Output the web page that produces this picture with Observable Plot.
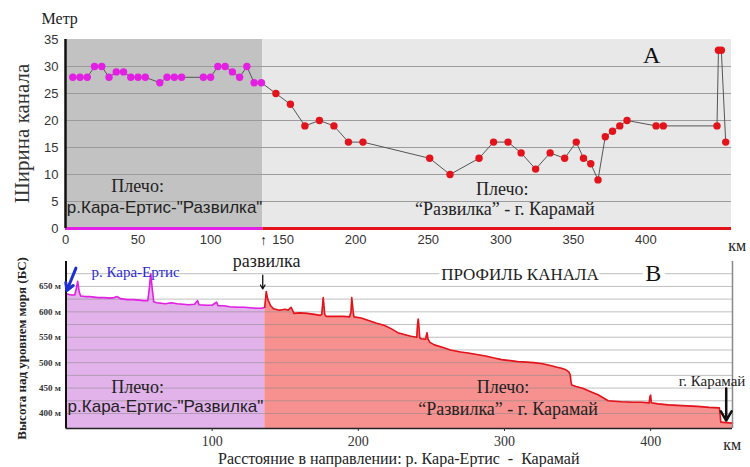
<!DOCTYPE html>
<html><head><meta charset="utf-8">
<script src="https://cdn.jsdelivr.net/npm/d3@7"></script>
<script src="https://cdn.jsdelivr.net/npm/@observablehq/plot@0.6"></script>
<style>
body{margin:0;background:#fff;}
#wrap{position:relative;width:750px;height:467px;overflow:hidden;background:#fff;}
#wrap svg{position:absolute;left:0;overflow:visible;}
</style></head><body><div id="wrap"></div>
<script>
const SERIF = "'Liberation Serif','Times New Roman',serif";
const SANS = "'Liberation Sans',Arial,sans-serif";

// shoulder split (km of the "Развилка" fork)
const splitKm = 136;
const endKmA = 459;
const endKmB = 456;

// Panel A: channel width (m) vs km
const widthKm = [5,10,15,20,25,30,35,40,45,50,55,65,70,75,80,95,100,105,110,115,120,125,130,135,
  145,155,165,175,185,195,205,251,265,285,295,305,314,324,334,344,352,357,362,367,372,377,382,387,407,412,449,450,452,455];
const widthM = [28,28,28,30,30,28,29,29,28,28,28,27,28,28,28,28,28,30,30,29,28,30,27,27,
  25,23,19,20,19,16,16,13,10,13,16,16,14,11,14,13,16,13,12,9,17,18,19,20,19,19,19,33,33,16];

// Panel B: elevation profile (m) vs km
const profileKm = [0,2,4,6,7,8,9,10,13,16,19,22,26,30,33,35,37,42,46,50,53,56,57,58,59,60,62,65,68,72,76,80,84,88,90,91,96,100,103,104,108,112,117,122,126,130,134,136,
  137,138,140,142,146,150,152,154,156,160,165,170,174,175,176,177,178,185,190,194,195,195.5,196.5,197,202,207,212,218,223,227,232,236,240,240.5,241,241.5,242,243,246,247,247.7,249,252,258,263,270,275,281,287,293,298,304,309,315,320,326,332,336,339,342,344,345,345.5,346,349,354,359,364,368,371,375,380,388,394,399,399.5,400,400.5,405,412,418,425,432,440,447,447.5,448,452,456];
const profileElev = [636,634,633,633,645,660,640,631,630,630,629,628,628,627,628,630,626,624,624,623,622,622,645,675,645,620,618,617,616,618,616,615,614,615,622,614,613,613,619,612,612,610,609,609,608,607,607,609,
  640,625,612,606,603,605,603,609,597,598,597,595,593,595,628,595,591,591,591,590,600,628,600,590,588,583,578,573,566,559,555,552,550,575,586,570,549,547,546,559,546,540,535,530,525,521,519,516,513,509,506,504,502,501,500,498,494,491,489,486,482,476,462,456,453,449,443,437,430,425,424,423,422,422,421,433,436,421,419,417,416,415,414,412,411,398,383,382,381];

const widthTicks = [0,5,10,15,20,25,30,35];
const widthGrid = [5,10,15,20,25,30];
const kmTicksA = [0,50,100,150,200,250,300,350,400];
const elevTicks = [400,450,500,550,600,650];
const elevGrid = [400,425,450,475,500,525,550,575,600,625,650,675];
const kmTicksB = [100,200,300,400];

const MAG = "#e21fe2", RED = "#e3121b";

const widthData = widthKm.map((k,i)=>({km:k, w:widthM[i]}));
const profile = profileKm.map((k,i)=>({km:k, h:profileElev[i]}));
const profA = profile.filter(d=>d.km<=splitKm);
const profB = profile.filter(d=>d.km>=splitKm);
const shoulders = [{from:0,to:splitKm,bg:"#c2c2c2",line:MAG,area:"#e2b2ea"},{from:splitKm,to:endKmA,bg:"#e8e8e8",line:RED,area:"#f6918f"}];

const wrap = document.getElementById("wrap");

const A = Plot.plot({
  width:750, height:256, marginLeft:65, marginRight:19, marginTop:39, marginBottom:28,
  x:{domain:[0,endKmA]}, y:{domain:[0,35]},
  style:{background:"transparent", fontFamily:SANS, fontSize:"13px", color:"#333", overflow:"visible"},
  marks:[
    Plot.rect(shoulders,{x1:"from",x2:"to",y1:0,y2:35,fill:"bg"}),
    Plot.ruleY(widthGrid,{stroke:"#9b9b9b",strokeWidth:1}),
    Plot.ruleY([0],{x1:0,x2:splitKm,stroke:MAG,strokeWidth:3}),
    Plot.ruleY([0],{x1:splitKm,x2:endKmA,stroke:RED,strokeWidth:3}),
    Plot.ruleX([0],{y1:0,y2:35,stroke:"#111",strokeWidth:2.5}),
    Plot.line(widthData,{x:"km",y:"w",stroke:"#555",strokeWidth:1}),
    Plot.dot(widthData,{x:"km",y:"w",r:3.7,fill:d=>d.km<splitKm?MAG:RED,stroke:"none"}),
    Plot.axisX(kmTicksA,{tickSize:0,tickPadding:6,fontSize:13,fontFamily:SANS,label:null}),
    Plot.axisY(widthTicks,{tickSize:0,tickPadding:7,fontSize:13,fontFamily:SANS,label:null}),
    Plot.text(["↑"],{x:splitKm+0.5,y:-2.3,fontSize:14,fontFamily:SANS,fill:"#222"}),
    Plot.text(["км"],{x:463,y:-3.3,fontSize:16,fontFamily:SERIF,fill:"#222"}),
    Plot.text(["Метр"],{x:-4,y:38.9,fontSize:16,fontFamily:SERIF,fill:"#222"}),
    Plot.text(["Ширина канала"],{x:-29.7,y:17.6,rotate:-90,fontSize:21,fontFamily:SERIF,fill:"#333"}),
    Plot.text(["A"],{x:404,y:32,fontSize:24,fontFamily:SERIF,fill:"#111"}),
    Plot.text(["Плечо:"],{x:49.7,y:7.8,fontSize:18,fontFamily:SERIF,fill:"#222"}),
    Plot.text(["р.Кара-Ертис-\"Развилка\""],{x:68.3,y:3.9,fontSize:17,fontFamily:SANS,fill:"#222"}),
    Plot.text(["Плечо:"],{x:301,y:7.2,fontSize:18,fontFamily:SERIF,fill:"#222"}),
    Plot.text(["“Развилка” - г. Карамай"],{x:302.8,y:3.5,fontSize:18,fontFamily:SERIF,fill:"#222"})
  ]
});
A.style.top = "0px";
wrap.appendChild(A);

const yMin = 370.5;
const B = Plot.plot({
  width:750, height:221, marginLeft:65.5, marginRight:18, marginTop:15, marginBottom:39,
  x:{domain:[0,endKmB]}, y:{domain:[yMin,699]},
  style:{background:"transparent", fontFamily:SERIF, fontSize:"14px", color:"#333", overflow:"visible"},
  marks:[
    Plot.areaY(profA,{x:"km",y1:yMin,y2:"h",fill:shoulders[0].area}),
    Plot.areaY(profB,{x:"km",y1:yMin,y2:"h",fill:shoulders[1].area}),
    Plot.ruleY(elevGrid,{stroke:"#8a8a8a",strokeOpacity:0.55,strokeWidth:1}),
    Plot.line(profA,{x:"km",y:"h",stroke:MAG,strokeWidth:1.6}),
    Plot.line(profB,{x:"km",y:"h",stroke:RED,strokeWidth:1.6}),
    Plot.ruleX([0],{y1:yMin,y2:699,stroke:"#111",strokeWidth:2}),
    Plot.ruleX([endKmB],{y1:yMin,y2:699,stroke:"#888",strokeWidth:1.5}),
    Plot.ruleY([yMin],{stroke:"#222",strokeWidth:1.5}),
    Plot.axisX(kmTicksB,{tickSize:3,tickPadding:5,fontSize:14,fontFamily:SERIF,label:null}),
    Plot.axisY(elevTicks,{tickSize:0,tickPadding:5,fontSize:9,fontWeight:"bold",fontFamily:SERIF,tickFormat:d=>d+" м",label:null}),
    Plot.text(["развилка"],{x:137.3,y:699,fontSize:18,fontFamily:SERIF,fill:"#222"}),
    Plot.arrow([0],{x1:134.6,y1:672,x2:134.6,y2:645,stroke:"#111",strokeWidth:1.3,headLength:6}),
    Plot.text(["р. Кара-Ертис"],{x:47.6,y:677.6,fontSize:15,fontFamily:SERIF,fill:"#2b2bd0"}),
    Plot.arrow([0],{x1:6.8,y1:686,x2:0.6,y2:642,stroke:"#1f2fd0",strokeWidth:3,headLength:11}),
    Plot.text(["ПРОФИЛЬ КАНАЛА"],{x:310.6,y:673.6,fontSize:17,fontFamily:SERIF,fill:"#222",stroke:"white",strokeWidth:8,paintOrder:"stroke"}),
    Plot.text(["В"],{x:401.7,y:675.6,fontSize:24,fontFamily:SERIF,fill:"#111",stroke:"white",strokeWidth:10,paintOrder:"stroke"}),
    Plot.text(["Плечо:"],{x:49,y:451,fontSize:18,fontFamily:SERIF,fill:"#222"}),
    Plot.text(["р.Кара-Ертис-\"Развилка\""],{x:68,y:414.5,fontSize:17,fontFamily:SANS,fill:"#222"}),
    Plot.text(["Плечо:"],{x:299,y:452,fontSize:18,fontFamily:SERIF,fill:"#222"}),
    Plot.text(["“Развилка” - г. Карамай"],{x:302.4,y:408,fontSize:18,fontFamily:SERIF,fill:"#222"}),
    Plot.text(["г. Карамай"],{x:442,y:463,fontSize:15,fontFamily:SERIF,fill:"#222"}),
    Plot.arrow([0],{x1:451.7,y1:449,x2:451.7,y2:386,stroke:"#111",strokeWidth:2.5,headLength:10}),
    Plot.text(["км"],{x:455.8,y:339,fontSize:16,fontFamily:SERIF,fill:"#222"}),
    Plot.text(["Высота над уровнем моря (БС)"],{x:-30.5,y:528,rotate:-90,fontSize:13,fontWeight:"bold",fontFamily:SERIF,fill:"#222"}),
    Plot.text(["Расстояние в направлении: р. Кара-Ертис  -  Карамай"],{x:227.7,y:311.4,fontSize:16,fontFamily:SERIF,fill:"#222"})
  ]
});
B.style.top = "246px";
wrap.appendChild(B);
</script></body></html>
